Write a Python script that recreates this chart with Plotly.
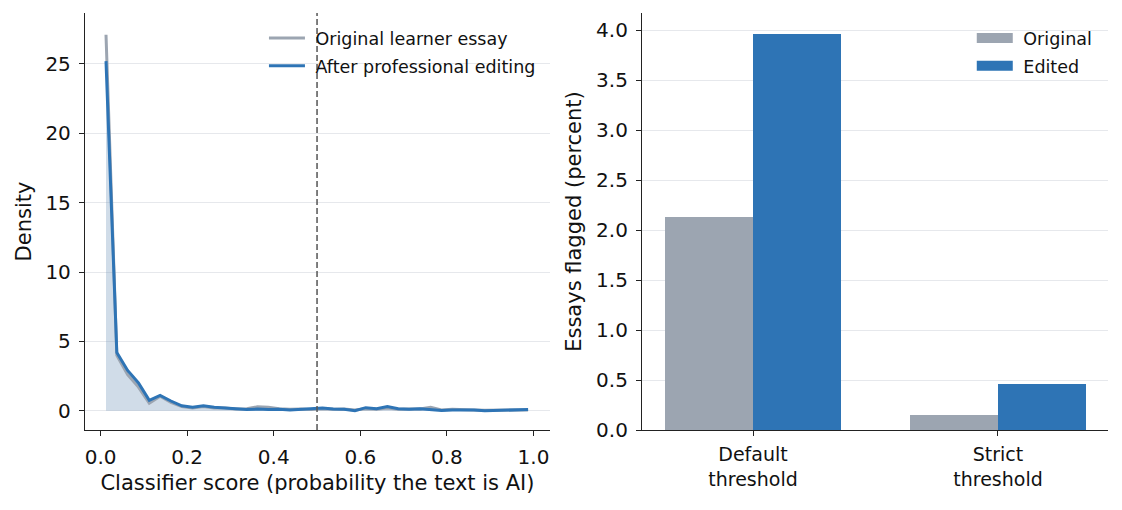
import plotly.graph_objects as go
from plotly.subplots import make_subplots

# left panel: density of classifier scores, 40 bins of width 0.025
bin_centers = [0.0125 + 0.025 * i for i in range(40)]
density_original = [27.1, 4.0, 2.6, 1.7, 0.55, 1.05, 0.6, 0.3, 0.2, 0.3,
                    0.2, 0.2, 0.12, 0.15, 0.28, 0.25, 0.15, 0.1, 0.12, 0.08,
                    0.15, 0.1, 0.12, 0.05, 0.15, 0.1, 0.2, 0.1, 0.12, 0.12,
                    0.25, 0.05, 0.1, 0.1, 0.05, 0.03, 0.05, 0.05, 0.06, 0.06]
density_edited = [25.2, 4.2, 2.9, 2.0, 0.75, 1.1, 0.7, 0.35, 0.25, 0.35,
                  0.25, 0.22, 0.15, 0.08, 0.12, 0.08, 0.1, 0.06, 0.1, 0.12,
                  0.2, 0.12, 0.1, 0.0, 0.22, 0.15, 0.3, 0.15, 0.1, 0.15,
                  0.08, 0.02, 0.06, 0.08, 0.06, 0.0, 0.02, 0.08, 0.08, 0.08]
threshold = 0.5

# right panel: percent of essays flagged
categories = ["Default<br>threshold", "Strict<br>threshold"]
flagged_original = [2.13, 0.15]
flagged_edited = [3.96, 0.46]

GRAY = "#9ca5b1"
BLUE = "#2e74b5"
FONT = "DejaVu Sans"
PAD = "\u00a0"  # little extra gap between legend key and text

fig = make_subplots(rows=1, cols=2, horizontal_spacing=0.09)

fig.add_trace(go.Scatter(x=bin_centers, y=density_original, mode="lines",
                         line=dict(width=0), fill="tozeroy",
                         fillcolor="rgba(110,145,185,0.32)",
                         showlegend=False, hoverinfo="skip"), row=1, col=1)
fig.add_trace(go.Scatter(x=bin_centers, y=density_original, mode="lines",
                         name=PAD + "Original learner essay", legendgroup="a",
                         line=dict(color=GRAY, width=3)), row=1, col=1)
fig.add_trace(go.Scatter(x=bin_centers, y=density_edited, mode="lines",
                         name=PAD + "After professional editing", legendgroup="b",
                         line=dict(color=BLUE, width=3)), row=1, col=1)
fig.add_vline(x=threshold, line=dict(color="#555555", width=1.5, dash="6px,3px"),
              row=1, col=1)

fig.add_trace(go.Bar(x=[0, 1], y=flagged_original, name="Original",
                     marker=dict(color=GRAY, line=dict(width=0)),
                     width=0.36, offset=-0.36, showlegend=False), row=1, col=2)
fig.add_trace(go.Bar(x=[0, 1], y=flagged_edited, name="Edited",
                     marker=dict(color=BLUE, line=dict(width=0)),
                     width=0.36, offset=0, showlegend=False), row=1, col=2)
# wide patch-like legend keys for the bars
fig.add_trace(go.Scatter(x=[None], y=[None], mode="lines", name=PAD + "Original",
                         legendgroup="c", legend="legend2",
                         line=dict(color=GRAY, width=12)), row=1, col=2)
fig.add_trace(go.Scatter(x=[None], y=[None], mode="lines", name=PAD + "Edited",
                         legendgroup="d", legend="legend2",
                         line=dict(color=BLUE, width=12)), row=1, col=2)

axis_style = dict(showline=True, linecolor="#222222", linewidth=1.3,
                  ticks="outside", ticklen=5, tickcolor="#222222",
                  ticklabelstandoff=4,
                  tickfont=dict(size=20, color="#111111"), zeroline=False,
                  mirror=False)

fig.update_xaxes(axis_style, row=1, col=1, range=[-0.036, 1.038],
                 tickvals=[0, 0.2, 0.4, 0.6, 0.8, 1.0], tickformat=".1f",
                 showgrid=False, domain=[0, 0.4545],
                 title=dict(text="Classifier score (probability the text is AI)",
                            font=dict(size=21), standoff=7))
fig.update_yaxes(axis_style, row=1, col=1, range=[-1.39, 28.67],
                 tickvals=[0, 5, 10, 15, 20, 25], showgrid=True,
                 gridcolor="#e6e8ec", gridwidth=1,
                 title=dict(text="Density", font=dict(size=21), standoff=8))
fig.update_xaxes(axis_style, row=1, col=2, range=[-0.453, 1.449],
                 tickvals=[0, 1], ticktext=categories, showgrid=False,
                 domain=[0.5445, 1])
fig.update_xaxes(tickfont=dict(size=19), ticklabelstandoff=2, row=1, col=2)
fig.update_yaxes(axis_style, row=1, col=2, range=[0, 4.17],
                 tickvals=[0, 0.5, 1, 1.5, 2, 2.5, 3, 3.5, 4],
                 tickformat=".1f", showgrid=True, gridcolor="#e6e8ec",
                 gridwidth=1,
                 title=dict(text="Essays flagged (percent)",
                            font=dict(size=21), standoff=8))

legend_style = dict(xanchor="right", yanchor="top", bgcolor="rgba(0,0,0,0)",
                    font=dict(size=17.5), tracegroupgap=2, itemwidth=36)
fig.update_layout(
    width=1106, height=494,
    margin=dict(l=77, r=6, t=5, b=72),
    paper_bgcolor="white", plot_bgcolor="white",
    font=dict(family=FONT, size=20, color="#111111"),
    barmode="overlay", bargap=0,
    legend=dict(legend_style, x=0.4457, y=0.983),
    legend2=dict(legend_style, x=0.990, y=0.983),
)

fig.write_html("out.html")
